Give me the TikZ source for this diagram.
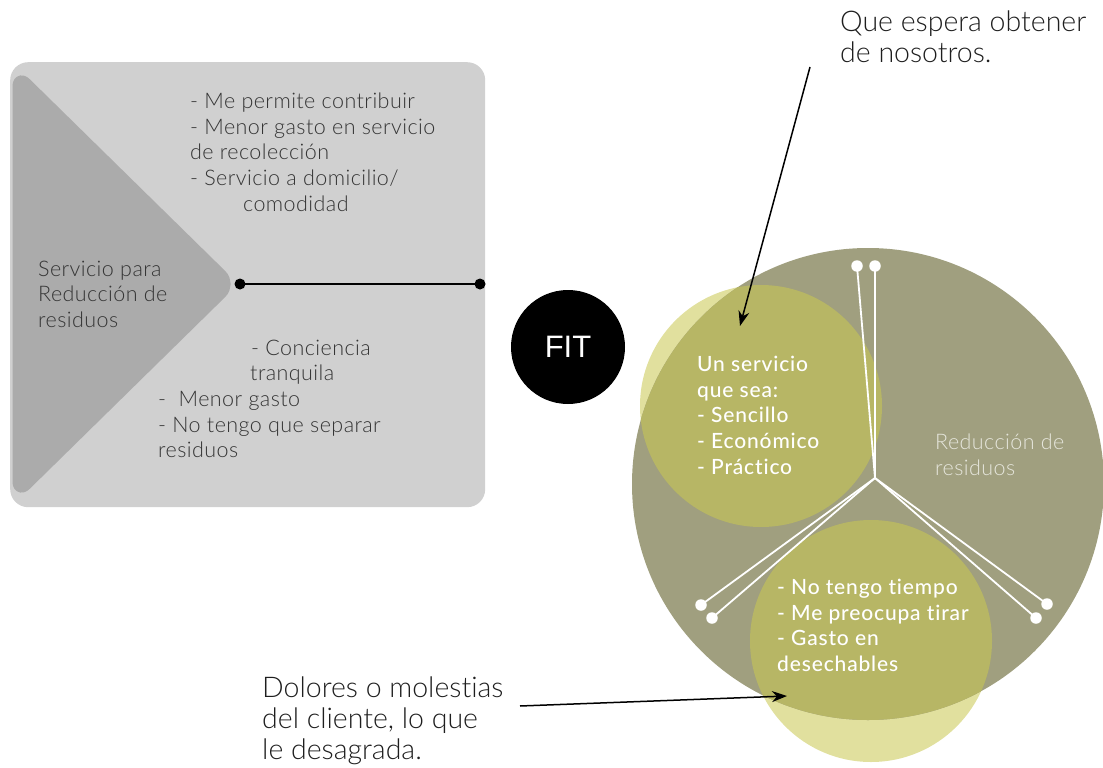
\documentclass[tikz,border=0pt]{standalone}
\usepackage{fontspec}
\usetikzlibrary{arrows.meta}
\setmainfont[Ligatures=NoCommon]{Lato}
\IfFontExistsTF{Lato Light}{\newfontfamily\lightf[Ligatures=NoCommon]{Lato Light}\newfontfamily\lightsp[LetterSpace=2,Ligatures=NoCommon]{Lato Light}}{\newfontfamily\lightf[Ligatures=NoCommon]{Lato}\newfontfamily\lightsp[LetterSpace=2,Ligatures=NoCommon]{Lato}}
\IfFontExistsTF{Lato Medium}{\newfontfamily\medsp[LetterSpace=4,Ligatures=NoCommon]{Lato Medium}}{\newfontfamily\medsp[LetterSpace=4,Ligatures=NoCommon]{Lato}}
\newfontfamily\fitf{Liberation Sans}
\definecolor{boxgray}{HTML}{D0D0D0}
\definecolor{trigray}{HTML}{ABABAB}
\definecolor{bigolive}{HTML}{A09F7F}
\definecolor{lightY}{HTML}{E1E09E}
\definecolor{overY}{HTML}{B7B665}
\definecolor{boxtxt}{HTML}{353535}
\definecolor{anntxt}{HTML}{1E1E1E}
\definecolor{redtxt}{HTML}{E6E6DC}
\tikzset{
  boxtext/.style={font=\lightsp\fontsize{21.5}{25.7}\selectfont, text=boxtxt, align=left, inner sep=0pt, anchor=north west},
  circtext/.style={font=\medsp\fontsize{21}{25.7}\selectfont, text=white, align=left, inner sep=0pt, anchor=north west},
  anntext/.style={font=\lightf\fontsize{28.5}{31}\selectfont, text=anntxt, align=left, inner sep=0pt, anchor=north west},
  blackdot/.style={circle, fill=black, minimum size=11pt, inner sep=0pt},
  whitedot/.style={circle, fill=white, minimum size=11.5pt, inner sep=0pt},
  wline/.style={white, line width=1.8pt},
  annarrow/.style={black, line width=1.5pt, -{Stealth[length=15pt,width=11pt]}},
}
\begin{document}
\begin{tikzpicture}[x=1pt,y=-1pt]
\useasboundingbox (0,0) rectangle (1103,768);
% ---------- left panel ----------
\node[draw=none, fill=boxgray, rounded corners=18pt, minimum width=475pt, minimum height=445pt, inner sep=0pt, anchor=north west] (panel) at (10,62) {};
\fill[trigray, draw=trigray, line width=9pt, line join=round, rounded corners=14pt] (17,73) -- (232,284) -- (17,495) -- cycle;
\node[blackdot] (pa) at (240,284) {};
\node[blackdot] (pb) at (480,284) {};
\draw[black, line width=2pt] (pa.center) -- (pb.center);
\node[boxtext] (gains) at (190,92.5) {- Me permite contribuir\\- Menor gasto en servicio\\de recolección\\- Servicio a domicilio/\\\hspace*{53pt}comodidad};
\node[boxtext] (relief) at (158,339.5) {\hspace*{93pt}- Conciencia\\\hspace*{92pt}tranquila\\-\ \ Menor gasto\\- No tengo que separar\\residuos};
\node[boxtext] (service) at (38,260.5) {Servicio para\\Reducción de\\residuos};
% ---------- FIT ----------
\node[circle, fill=black, minimum size=114pt, inner sep=0pt, text=white, font=\fitf\fontsize{31}{31}\selectfont] (fit) at (568,347) {FIT};
% ---------- right circles ----------
\node[circle, fill=lightY, minimum size=242pt, inner sep=0pt] (wants) at (761,406) {};
\node[circle, fill=lightY, minimum size=242pt, inner sep=0pt] (pains) at (871,641) {};
\node[circle, fill=bigolive, minimum size=472pt, inner sep=0pt] (big) at (868,484) {};
\begin{scope}
  \clip (868,484) circle[radius=236pt];
  \fill[overY] (761,406) circle[radius=121pt];
  \fill[overY] (871,641) circle[radius=121pt];
\end{scope}
% white connectors
\coordinate (hub) at (875,478);
\node[whitedot] (t1) at (857,266) {};
\node[whitedot] (t2) at (875,266) {};
\node[whitedot] (l1) at (701,605) {};
\node[whitedot] (l2) at (712,618) {};
\node[whitedot] (r1) at (1047,604) {};
\node[whitedot] (r2) at (1036,618) {};
\draw[wline] (hub) -- (t1.center);
\draw[wline] (hub) -- (t2.center);
\draw[wline] (hub) -- (l1.center);
\draw[wline] (hub) -- (l2.center);
\draw[wline] (hub) -- (r1.center);
\draw[wline] (hub) -- (r2.center);
% texts in circles
\node[circtext] (wtext) at (697,355.8) {Un servicio\\que sea:\\- Sencillo\\- Económico\\- Práctico};
\node[font=\lightsp\fontsize{21.5}{25.7}\selectfont, text=redtxt, align=left, inner sep=0pt, anchor=north west] (rtext) at (935,433.5) {Reducción de\\residuos};
\node[circtext] (ptext) at (777,578.8) {- No tengo tiempo\\- Me preocupa tirar\\- Gasto en\\desechables};
% ---------- annotations ----------
\node[anntext] (qtext) at (840,11) {Que espera obtener\\de nosotros.};
\node[anntext] (dtext) at (262,677) {Dolores o molestias\\del cliente, lo que\\le desagrada.};
\coordinate (qs) at (810,67);
\coordinate (qt) at (740,326);
\coordinate (ds) at (520,706);
\coordinate (dt) at (787,696);
\draw[annarrow] (qs) -- (qt);
\draw[annarrow] (ds) -- (dt);
\end{tikzpicture}
\end{document}
